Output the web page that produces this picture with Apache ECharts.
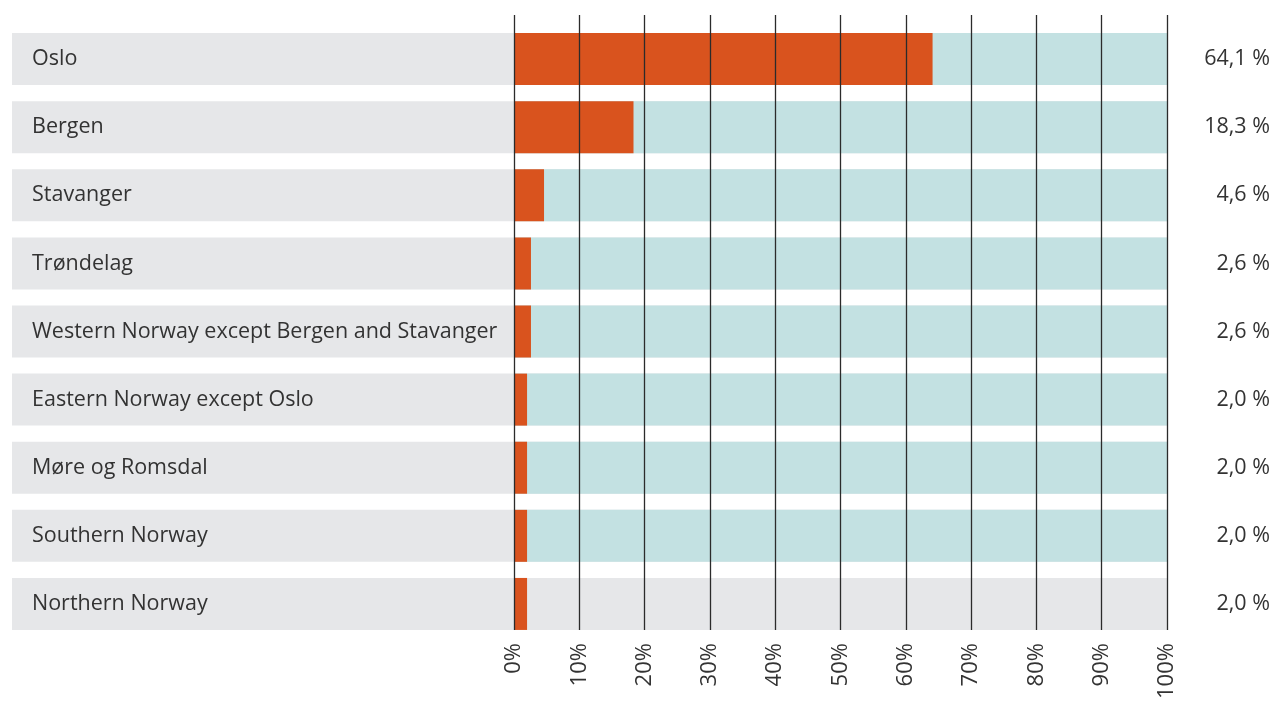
<!DOCTYPE html>
<html><head><meta charset="utf-8">
<script src="https://cdn.jsdelivr.net/npm/echarts@6/dist/echarts.min.js"></script>
<style>html,body{margin:0;padding:0;background:#fff}#c{width:1274px;height:702px}</style>
</head><body><div id="c"></div>
<script>
const categories = ["Oslo","Bergen","Stavanger","Trøndelag","Western Norway except Bergen and Stavanger","Eastern Norway except Oslo","Møre og Romsdal","Southern Norway","Northern Norway"];
const shares = [64.1, 18.3, 4.6, 2.6, 2.6, 2.0, 2.0, 2.0, 2.0];
const shareLabels = ["64,1 %","18,3 %","4,6 %","2,6 %","2,6 %","2,0 %","2,0 %","2,0 %","2,0 %"];
const restShown = [true,true,true,true,true,true,true,true,false];
const tickLabels = ["0%","10%","20%","30%","40%","50%","60%","70%","80%","90%","100%"];

const FONT = 'Open Sans';
const TXT = '#333333';
const chart = echarts.init(document.getElementById('c'), null, {renderer:'canvas'});
chart.setOption({
  animation:false,
  backgroundColor:'#ffffff',
  grid:[
    {left:12, right:107, top:25, bottom:64},
    {left:514, right:107, top:25, bottom:64},
    {left:514, right:107, top:15, bottom:67}
  ],
  xAxis:[
    {gridIndex:0, type:'value', min:0, max:1, show:false},
    {gridIndex:1, type:'value', min:0, max:100, show:false},
    {gridIndex:2, type:'value', min:0, max:100, interval:10, z:10,
     axisLine:{show:false}, axisTick:{show:false},
     splitLine:{show:true, lineStyle:{color:'#2b2b2b', width:1.3}},
     axisLabel:{rotate:90, margin:13, fontFamily:FONT, fontSize:22, color:TXT,
       formatter:(v)=>tickLabels[Math.round(v/10)]}}
  ],
  yAxis:[
    {gridIndex:0, type:'category', data:categories, inverse:true, z:10,
     axisLine:{show:false}, axisTick:{show:false}, splitLine:{show:false},
     axisLabel:{inside:true, margin:20, padding:[4,0,0,0], fontFamily:FONT, fontSize:21.5, color:TXT}},
    {gridIndex:0, type:'category', data:shareLabels, inverse:true, position:'right', z:10,
     axisLine:{show:false}, axisTick:{show:false}, splitLine:{show:false},
     axisLabel:{align:'right', margin:103, padding:[4,0,0,0], fontFamily:FONT, fontSize:21.5, color:TXT}},
    {gridIndex:1, type:'category', data:categories, inverse:true, show:false},
    {gridIndex:2, type:'value', show:false, min:0, max:1}
  ],
  series:[
    {type:'bar', xAxisIndex:0, yAxisIndex:0, barWidth:52, silent:true,
     data:categories.map(()=>1), itemStyle:{color:'#e6e7e9'}, z:1},
    {type:'bar', xAxisIndex:1, yAxisIndex:2, barWidth:52, silent:true, barGap:'-100%',
     data:restShown.map(s=>({value:100, itemStyle:{color: s ? '#c3e1e2' : '#e6e7e9'}})), z:2},
    {type:'bar', xAxisIndex:1, yAxisIndex:2, barWidth:52, silent:true, barGap:'-100%',
     data:shares, itemStyle:{color:'#d9531e'}, z:3}
  ]
});
</script></body></html>
